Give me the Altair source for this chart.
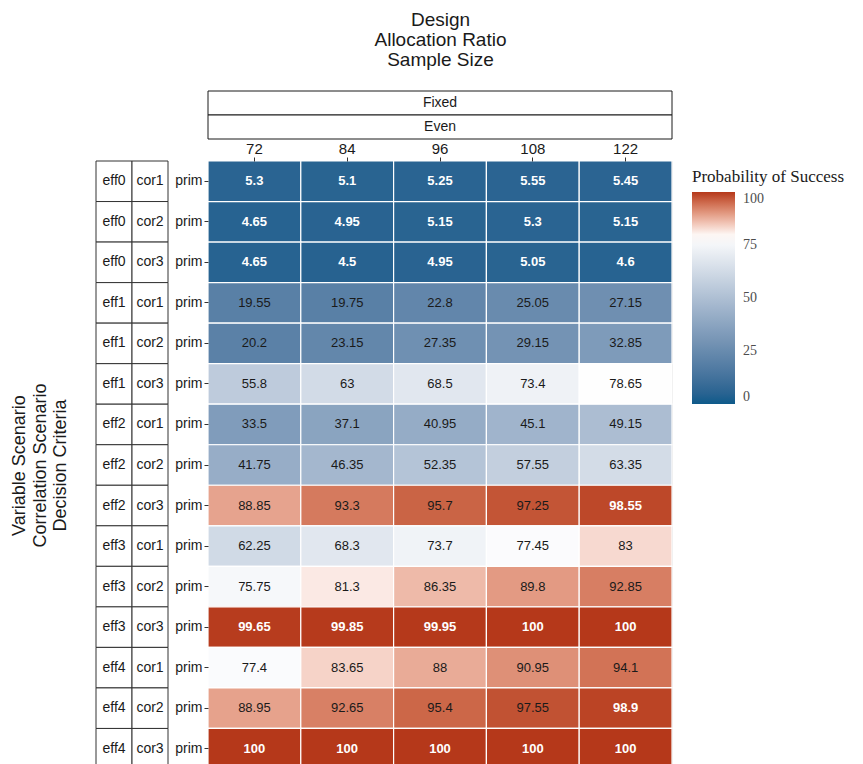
import altair as alt
import pandas as pd

sample_sizes = ["72", "84", "96", "108", "122"]
var_scen = ["eff0", "eff0", "eff0", "eff1", "eff1", "eff1", "eff2", "eff2", "eff2",
            "eff3", "eff3", "eff3", "eff4", "eff4", "eff4"]
cor_scen = ["cor1", "cor2", "cor3"] * 5
criteria = ["prim"] * 15
prob = [
    [5.3, 5.1, 5.25, 5.55, 5.45],
    [4.65, 4.95, 5.15, 5.3, 5.15],
    [4.65, 4.5, 4.95, 5.05, 4.6],
    [19.55, 19.75, 22.8, 25.05, 27.15],
    [20.2, 23.15, 27.35, 29.15, 32.85],
    [55.8, 63, 68.5, 73.4, 78.65],
    [33.5, 37.1, 40.95, 45.1, 49.15],
    [41.75, 46.35, 52.35, 57.55, 63.35],
    [88.85, 93.3, 95.7, 97.25, 98.55],
    [62.25, 68.3, 73.7, 77.45, 83],
    [75.75, 81.3, 86.35, 89.8, 92.85],
    [99.65, 99.85, 99.95, 100, 100],
    [77.4, 83.65, 88, 90.95, 94.1],
    [88.95, 92.65, 95.4, 97.55, 98.9],
    [100, 100, 100, 100, 100],
]
design_strips = ["Fixed", "Even"]

records = []
row_keys = []
for i, (e, c, d) in enumerate(zip(var_scen, cor_scen, criteria)):
    key = f"{e}|{c}|{d}"
    row_keys.append(key)
    for j, s in enumerate(sample_sizes):
        v = prob[i][j]
        records.append(dict(row=key, eff=e, cor=c, crit=d, n=s, p=v,
                            label=f"{v:g}", light=(v < 10 or v > 98)))
df = pd.DataFrame(records)
row_df = pd.DataFrame({"row": row_keys, "eff": var_scen, "cor": cor_scen})

W = 464
H = 608
FONT = "Liberation Sans"

x_enc = alt.X("n:N", sort=sample_sizes,
              scale=alt.Scale(paddingInner=0, paddingOuter=0),
              axis=alt.Axis(orient="top", labelAngle=0, labelFont=FONT, labelFontSize=15,
                            labelColor="#1a1a1a", tickColor="#333333", tickSize=4,
                            labelPadding=1, domain=False,
                            title=["Design", "Allocation Ratio", "Sample Size"],
                            titleFont=FONT, titleFontSize=19, titleFontWeight="normal",
                            titleColor="#1a1a1a", titlePadding=72, titleLineHeight=20))
y_enc = alt.Y("row:N", sort=row_keys,
              scale=alt.Scale(paddingInner=0, paddingOuter=0),
              axis=alt.Axis(labelExpr="split(datum.value, '|')[2]", labelFont=FONT,
                            labelFontSize=14, labelColor="#1a1a1a", tickColor="#333333",
                            tickSize=4, labelPadding=2, domain=False,
                            title=["Variable Scenario", "Correlation Scenario", "Decision Criteria"],
                            titleFont=FONT, titleFontSize=18, titleFontWeight="normal",
                            titleColor="#1a1a1a", titlePadding=105, titleLineHeight=20.5))

color = alt.Color("p:Q",
                  scale=alt.Scale(domain=[0, 79, 100],
                                  range=["#0e5a8a", "#ffffff", "#b5381a"],
                                  interpolate="lab"),
                  legend=alt.Legend(title="Probability of Success", orient="none",
                                    legendX=W + 20, legendY=8,
                                    titleFont="Liberation Serif", titleFontSize=17,
                                    titleFontWeight="normal", titleColor="#1a1a1a",
                                    labelFont="Liberation Serif", labelFontSize=14,
                                    labelColor="#4d4d4d", labelOffset=8, gradientLength=212,
                                    gradientThickness=43, values=[0, 25, 50, 75, 100],
                                    titlePadding=6, gradientStrokeWidth=0))

base = alt.Chart(df)
tiles = base.mark_rect(stroke="white", strokeWidth=1.2).encode(x=x_enc, y=y_enc, color=color)
txt_dark = base.transform_filter("!datum.light").mark_text(
    font=FONT, fontSize=13, color="#1a1a1a").encode(x=x_enc, y=y_enc, text="label:N")
txt_light = base.transform_filter("datum.light").mark_text(
    font=FONT, fontSize=13, fontWeight="bold", color="white").encode(x=x_enc, y=y_enc, text="label:N")

layers = [tiles, txt_dark, txt_light]

# left strips (variable scenario, correlation scenario)
rb = alt.Chart(row_df)
for field, x0, x1 in [("eff", -112, -76), ("cor", -76, -40)]:
    layers.append(rb.mark_rect(fill="white", stroke="#333333", strokeWidth=1).encode(
        x=alt.value(x0), x2=alt.value(x1), y=y_enc))
    layers.append(rb.mark_text(font=FONT, fontSize=14, color="#1a1a1a").encode(
        x=alt.value((x0 + x1) / 2), y=y_enc, text=f"{field}:N"))

# top strips
for k, lab in enumerate(design_strips):
    y0 = -70 + 24 * k
    sd = alt.Chart(pd.DataFrame({"lab": [lab]}))
    layers.append(sd.mark_rect(fill="white", stroke="#1a1a1a", strokeWidth=1).encode(
        x=alt.value(0), x2=alt.value(W), y=alt.value(y0), y2=alt.value(y0 + 24)))
    layers.append(sd.mark_text(font=FONT, fontSize=14, color="#1a1a1a").encode(
        x=alt.value(W / 2), y=alt.value(y0 + 12), text="lab:N"))

chart = alt.layer(*layers).properties(
    width=W, height=H,
    padding={"left": 2, "top": 2, "right": 5, "bottom": 5}
).configure_view(stroke=None).configure(background="white")

chart.save("out.html", embed_options={"renderer": "svg", "actions": False})
